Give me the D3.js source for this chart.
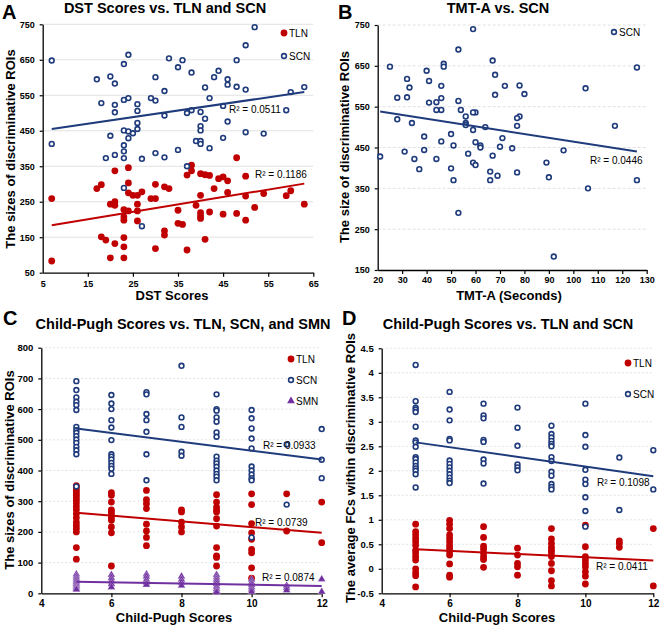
<!DOCTYPE html>
<html>
<head>
<meta charset="utf-8">
<script src="https://cdn.jsdelivr.net/npm/d3@7"></script>
<style>
html,body{margin:0;padding:0;background:#fff;}
svg{display:block;font-family:"Liberation Sans",Arial,sans-serif;}
</style>
</head>
<body>
<svg id="chart" width="660" height="627"></svg>
<script>
// ---------- DATA ----------
// Panel A: DST scores
const dstScnX = [7,7,17,18,20,21,21,21,23,24,23,24,20,23,24,25,24,26,26,26,26,23,23,23,21,19,27,30,29,30,32,32,30,32,33,35,36,38,35,37,38,40,41,40,40,39,40,40,42,42,41,43,44,45,46,46,46,45,48,48,50,52,50,50,54,59,60,63,23,37,27];
const dstScnY = [648,413,595,528,603,583,523,502,638,664,537,542,436,451,448,443,429,455,472,506,525,409,392,373,382,373,371,601,542,535,562,493,387,375,654,629,649,614,396,500,508,503,484,463,451,421,421,413,401,542,572,601,619,520,595,580,476,430,649,574,691,742,566,446,442,508,559,573,289,350,181];
const dstTlnX = [7,7,17,18,18,19,20,20,21,21,21,21,23,23,23,23,23,23,24,24,24,24,25,26,26,26,26,27,29,30,30,30,32,33,32,32,35,35,36,37,37,38,38,39,40,40,40,40,40,41,41,42,42,43,44,45,46,46,45,48,48,50,50,50,52,54,59,60,63];
const dstTlnY = [259,83,287,298,151,142,243,92,337,250,240,132,228,207,198,149,123,92,346,303,275,224,268,268,243,224,196,278,259,259,299,118,292,287,168,156,226,189,186,114,325,353,337,240,329,268,219,210,203,326,144,324,221,287,315,320,309,276,215,374,217,322,266,198,234,273,267,281,243];
const dstScnTrend = [[7,455],[63,559]];
const dstTlnTrend = [[7,184],[63,301]];
const dstR2 = ["R² = 0.0511","R² = 0.1186"];

// Panel B: TMT-A
const tmtX = [59,53,67,25,40,47,47,32,41,33,46,68,72,78,80,105,126,28,32,41,46,53,68,44,46,54,44,56,60,59,28,34,56,56,59,64,77,78,77,117,39,50,71,46,60,62,62,51,70,75,39,31,57,67,96,21,35,44,37,50,59,60,89,51,66,66,69,77,90,126,106,53,92];
const tmtY = [740,690,663,648,638,655,648,618,613,597,601,628,601,602,581,595,646,572,573,560,571,564,579,561,542,542,542,526,536,536,519,510,510,505,493,500,503,526,522,503,477,483,473,465,463,455,450,455,452,448,444,440,435,430,443,428,422,422,397,399,413,407,413,370,391,370,381,389,377,370,350,290,183];
const tmtTrend = [[21,538],[126,440]];
const tmtR2 = "R² = 0.0446";

// Panels C & D: Child-Pugh scores
const cpX = [5,6,7,8,9,10,11,12];
const cpScnSize = [
  [691,662,638,624,613,597,542,531,523,512,501,490,477,466,453,348],
  [646,618,600,564,540,499,453,445,436,425,415,406,389],
  [655,648,584,564,526,453,368],
  [741,573,542,461,448],
  [648,600,595,573,559,524,510,445,432,423,412,400,389,380,368],
  [597,570,537,504,472,413,400,387,375,368,182],
  [485,289],
  [535,435,375]
];
const cpTlnSize = [
  [351,344,335,327,319,311,303,294,283,272,259,246,232,222,211,200,149,111],
  [328,319,297,272,265,256,246,238,216,197,89],
  [335,305,292,276,225,203,182,155],
  [272,265,232,216,200],
  [321,297,281,272,265,243,219,149,122,117,89],
  [324,289,227,197,176,143,132,83,49],
  [324,203],
  [297,165]
];
const cpSmnSize = [
  [62,55,48,42,36,30,25,20,15,12],
  [60,50,40,30,20],
  [62,55,45,35,28],
  [55,45,35,25],
  [60,52,45,38,30,22,15,8,3],
  [45,35,28,20,12,5],
  [25,18,10],
  [46,5]
];
const cpScnTrend = [[5,537],[12,436]];
const cpTlnTrend = [[5,262],[12,197]];
const cpSmnTrend = [[5,38],[12,24]];
const cpSizeR2 = ["R² = 0.0933","R² = 0.0739","R² = 0.0874"];

const cpScnFc = [
  [4.16,3.42,3.29,3.25,3.20,2.90,2.62,2.58,2.49,2.28,2.24,2.17,2.10,2.05,2.00,1.93,1.66],
  [3.61,3.25,3.03,2.65,2.62,2.21,2.14,2.07,2.00,1.93,1.86,1.80,1.75],
  [3.37,3.13,3.07,2.63,2.59,2.23,2.15,1.74],
  [3.29,2.88,2.51,2.13,2.07,2.01],
  [2.92,2.75,2.68,2.61,2.55,2.50,2.28,2.20,1.98,1.90,1.73,1.67,1.62],
  [3.37,2.73,2.49,2.02,1.82,1.73,1.46,1.18,0.86],
  [2.27,1.20],
  [2.42,1.62]
];
const cpTlnFc = [
  [0.91,0.76,0.69,0.62,0.55,0.48,0.38,0.32,0.25,0.18,0.0,-0.08,-0.14,-0.37],
  [0.99,0.91,0.82,0.69,0.62,0.55,0.48,0.42,0.35,0.28,0.10,-0.13,-0.17],
  [0.86,0.64,0.46,0.40,0.32,0.25,0.19,0.03],
  [0.42,0.28,0.11,0.04,-0.13],
  [0.82,0.61,0.52,0.44,0.38,0.32,0.25,0.11,-0.04,-0.24,-0.35],
  [0.89,0.45,0.25,0.18,0.11,0.04,-0.06,-0.15,-0.31],
  [0.57,0.52,0.44],
  [0.82,-0.35]
];
const cpScnFcTrend = [[5,2.58],[12,1.89]];
const cpTlnFcTrend = [[5,0.40],[12,0.17]];
const cpFcR2 = ["R² = 0.1098","R² = 0.0411"];

// Tick values
const dstTicks = [5,15,25,35,45,55,65];
const sizeTicksA = [50,150,250,350,450,550,650,750];
const tmtTicks = [20,30,40,50,60,70,80,90,100,110,120,130];
const sizeTicksB = [150,250,350,450,550,650,750];
const cpTicks = [4,6,8,10,12];
const sizeTicksC = [0,100,200,300,400,500,600,700,800];
const fcTicks = [-0.5,0,0.5,1,1.5,2,2.5,3,3.5,4,4.5];

// ---------- DRAWING ----------
const NAVY = "#1f3b7b", RED = "#c00000", PURPLE = "#7030a0";
const svg = d3.select("#chart");

function flatten(xs, groups){
  const out = [];
  groups.forEach((g,i)=>g.forEach(v=>out.push([xs[i],v])));
  return out;
}
function zip(xs, ys){ return xs.map((x,i)=>[x,ys[i]]); }

function panel(o){
  const g = svg.append("g");
  const x = d3.scaleLinear().domain(o.xDomain).range([o.x0,o.x1]);
  const y = d3.scaleLinear().domain(o.yDomain).range([o.y1,o.y0]);
  // grid
  g.append("g").selectAll("line").data(o.yTicks.filter(t=>t!==o.yDomain[0])).join("line")
    .attr("x1",o.x0).attr("x2",o.x1).attr("y1",d=>y(d)).attr("y2",d=>y(d))
    .attr("stroke","#d9d9d9").attr("stroke-width",0.8)
    .attr("stroke-dasharray",o.gridDash||null);
  // axes
  const ax = g.append("g").attr("transform",`translate(0,${o.y1})`)
    .call(d3.axisBottom(x).tickValues(o.xTicks).tickSize(4).tickSizeOuter(0).tickFormat(d=>String(d)));
  const ay = g.append("g").attr("transform",`translate(${o.x0},0)`)
    .call(d3.axisLeft(y).tickValues(o.yTicks).tickSize(3).tickSizeOuter(0).tickFormat(d=>String(d)));
  [ax,ay].forEach(a=>{
    a.select(".domain").attr("stroke","#000").attr("stroke-width",1.3);
    a.selectAll(".tick line").attr("stroke","#000").attr("stroke-width",1.2);
    a.selectAll(".tick text").attr("font-family","Liberation Sans, Arial, sans-serif")
      .attr("font-weight","bold").attr("fill","#000");
  });
  ax.selectAll(".tick text").attr("font-size",o.xTickSize||9).attr("y",o.xTickBase||14).attr("dy",0);
  ay.selectAll(".tick text").attr("font-size",o.yTickSize||9).attr("x",-8);
  ax.select(".tick:first-of-type line").remove();
  // titles
  g.append("text").attr("x",o.titleX).attr("y",o.titleY).attr("text-anchor","middle")
    .attr("font-size",14.5).attr("font-weight","bold").text(o.title);
  g.append("text").attr("x",o.letterX).attr("y",o.letterY)
    .attr("font-size",20).attr("font-weight","bold").text(o.letter);
  g.append("text").attr("x",o.xTitleX).attr("y",o.xTitleY).attr("text-anchor","middle")
    .attr("font-size",13).attr("font-weight","bold").text(o.xTitle);
  g.append("text").attr("transform",`translate(${o.yTitleX},${o.yTitleY}) rotate(-90)`)
    .attr("text-anchor","middle").attr("font-size",13).attr("font-weight","bold").text(o.yTitle);
  // series
  o.series.forEach(s=>{
    const sg = g.append("g");
    if(s.type==="filled"){
      sg.selectAll("circle").data(s.pts).join("circle")
        .attr("cx",d=>x(d[0])).attr("cy",d=>y(d[1])).attr("r",3.4).attr("fill",s.color);
    } else if(s.type==="open"){
      sg.selectAll("circle").data(s.pts).join("circle")
        .attr("cx",d=>x(d[0])).attr("cy",d=>y(d[1])).attr("r",2.4)
        .attr("fill","#fff").attr("stroke",s.color).attr("stroke-width",1.6);
    } else {
      sg.selectAll("path").data(s.pts).join("path")
        .attr("d",d3.symbol(d3.symbolTriangle,26))
        .attr("transform",d=>`translate(${x(d[0])},${y(d[1])})`)
        .attr("fill",s.color).attr("stroke","#fff").attr("stroke-width",0.3);
    }
  });
  // trend lines
  o.series.forEach(s=>{
    g.append("line").attr("x1",x(s.trend[0][0])).attr("y1",y(s.trend[0][1]))
      .attr("x2",x(s.trend[1][0])).attr("y2",y(s.trend[1][1]))
      .attr("stroke",s.color).attr("stroke-width",2);
  });
  // R2 labels
  o.series.forEach(s=>{
    g.append("text").attr("x",s.r2x).attr("y",s.r2y).attr("font-size",10).attr("fill","#000").text(s.r2);
  });
  // legend
  o.series.forEach((s,i)=>{
    const lx = o.legX, ly = o.legY + i*o.legGap;
    if(s.type==="filled") g.append("circle").attr("cx",lx).attr("cy",ly).attr("r",3.4).attr("fill",s.color);
    else if(s.type==="open") g.append("circle").attr("cx",lx).attr("cy",ly).attr("r",2.4).attr("fill","#fff").attr("stroke",s.color).attr("stroke-width",1.6);
    else g.append("path").attr("d",d3.symbol(d3.symbolTriangle,26)).attr("transform",`translate(${lx},${ly})`).attr("fill",s.color);
    g.append("text").attr("x",lx+5).attr("y",ly+3.6).attr("font-size",10).text(s.name);
  });
}

panel({
  letter:"A", letterX:2, letterY:19,
  title:"DST Scores vs. TLN and SCN", titleX:165, titleY:13,
  xTitle:"DST Scores", xTitleX:172, xTitleY:300,
  yTitle:"The sizes of discriminative ROIs", yTitleX:15, yTitleY:149,
  x0:42.7, x1:313.3, y0:24.3, y1:272.7,
  xDomain:[5,65], yDomain:[50,750], xTicks:dstTicks, yTicks:sizeTicksA, xTickBase:14,
  legX:284, legY:33, legGap:23,
  series:[
    {name:"TLN", type:"filled", color:RED, pts:zip(dstTlnX,dstTlnY), trend:dstTlnTrend, r2:dstR2[1], r2x:255, r2y:178},
    {name:"SCN", type:"open", color:NAVY, pts:zip(dstScnX,dstScnY), trend:dstScnTrend, r2:dstR2[0], r2x:229, r2y:113}
  ]
});

panel({
  letter:"B", letterX:338, letterY:19,
  title:"TMT-A vs. SCN", titleX:498, titleY:13,
  xTitle:"TMT-A (Seconds)", xTitleX:509, xTitleY:300,
  yTitle:"The size of discriminative ROIs", yTitleX:349, yTitleY:147,
  x0:377.7, x1:646.7, y0:25, y1:270,
  xDomain:[20,130], yDomain:[150,750], xTicks:tmtTicks, yTicks:sizeTicksB, gridDash:"3,2", xTickBase:13,
  legX:614, legY:32, legGap:23,
  series:[
    {name:"SCN", type:"open", color:NAVY, pts:zip(tmtX,tmtY), trend:tmtTrend, r2:tmtR2, r2x:590, r2y:164}
  ]
});

panel({
  letter:"C", letterX:3, letterY:325,
  title:"Child-Pugh Scores vs. TLN, SCN, and SMN", titleX:183, titleY:329,
  xTitle:"Child-Pugh Scores", xTitleX:174, xTitleY:622,
  yTitle:"The sizes of discriminative ROIs", yTitleX:14, yTitleY:470,
  x0:41.3, x1:321.7, y0:347.7, y1:593.3,
  xDomain:[4,12], yDomain:[0,800], xTicks:cpTicks, yTicks:sizeTicksC, gridDash:"2,2",
  xTickSize:10, yTickSize:9.5, xTickBase:14,
  legX:291, legY:359, legGap:21,
  series:[
    {name:"TLN", type:"filled", color:RED, pts:flatten(cpX,cpTlnSize), trend:cpTlnTrend, r2:cpSizeR2[1], r2x:255, r2y:526},
    {name:"SCN", type:"open", color:NAVY, pts:flatten(cpX,cpScnSize), trend:cpScnTrend, r2:cpSizeR2[0], r2x:263, r2y:449},
    {name:"SMN", type:"tri", color:PURPLE, pts:flatten(cpX,cpSmnSize), trend:cpSmnTrend, r2:cpSizeR2[2], r2x:262, r2y:581}
  ]
});

panel({
  letter:"D", letterX:342, letterY:325,
  title:"Child-Pugh Scores vs. TLN and SCN", titleX:508, titleY:329,
  xTitle:"Child-Pugh Scores", xTitleX:497, xTitleY:622,
  yTitle:"The average FCs within discriminative ROIs", yTitleX:355, yTitleY:468,
  x0:381.7, x1:653.3, y0:348.3, y1:593.3,
  xDomain:[4,12], yDomain:[-0.5,4.5], xTicks:cpTicks, yTicks:fcTicks, gridDash:"2,2",
  xTickSize:10, yTickSize:9.5, xTickBase:14,
  legX:628, legY:363, legGap:31,
  series:[
    {name:"TLN", type:"filled", color:RED, pts:flatten(cpX,cpTlnFc), trend:cpTlnFcTrend, r2:cpFcR2[1], r2x:596, r2y:570},
    {name:"SCN", type:"open", color:NAVY, pts:flatten(cpX,cpScnFc), trend:cpScnFcTrend, r2:cpFcR2[0], r2x:597, r2y:486}
  ]
});
</script>
</body>
</html>
